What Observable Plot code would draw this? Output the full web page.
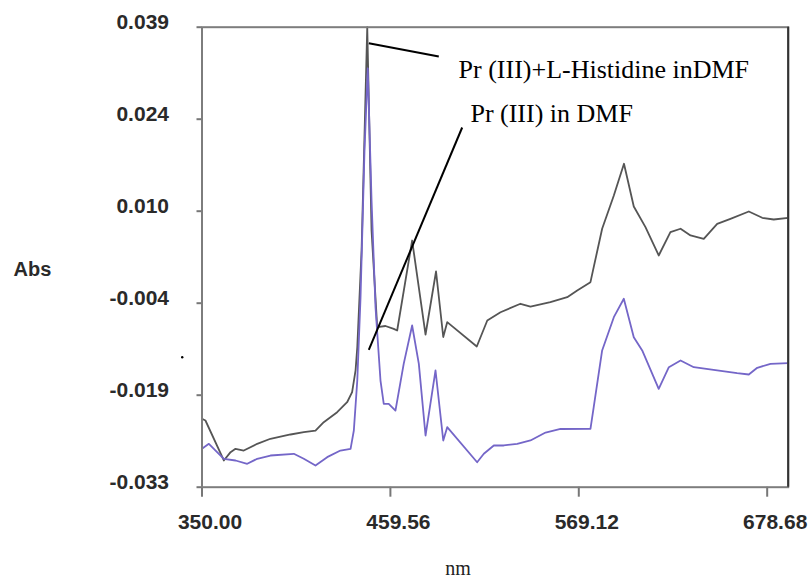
<!DOCTYPE html>
<html><head><meta charset="utf-8">
<script src="https://cdn.jsdelivr.net/npm/d3@7"></script>
<script src="https://cdn.jsdelivr.net/npm/@observablehq/plot@0.6"></script>
<style>body{margin:0;background:#fff}</style>
</head><body><div id="chart"></div>
<script>
// Pr (III) + L-Histidine in DMF (dark grey trace)
const nmComplex = [350.0,352.0,362.7,366.6,369.5,374.3,382.1,389.8,401.5,409.2,416.0,420.8,428.6,434.4,437.3,439.3,440.3,442.8,446.1,448.6,451.9,456.7,461.5,463.5,472.2,480.0,486.1,490.3,492.6,509.8,515.9,523.6,535.2,541.0,552.6,562.4,568.2,575.9,577.8,582.7,589.5,595.4,601.1,607.9,615.6,622.4,628.3,634.1,641.8,649.6,657.3,668.0,675.8,682.5,690.9];
const absComplex = [-0.02229,-0.02256,-0.02882,-0.02752,-0.02699,-0.02726,-0.02621,-0.02542,-0.02475,-0.02439,-0.02413,-0.02283,-0.02126,-0.01970,-0.01813,-0.01473,-0.01109,0.00405,0.03900,0.00718,-0.00796,-0.00777,-0.00821,-0.00847,0.00561,-0.00910,0.00076,-0.00949,-0.00717,-0.01098,-0.00691,-0.00561,-0.00429,-0.00472,-0.00404,-0.00326,-0.00221,-0.00091,0.00144,0.00745,0.01266,0.01762,0.01094,0.00770,0.00327,0.00691,0.00745,0.00640,0.00588,0.00823,0.00901,0.01015,0.00917,0.00890,0.00917];
// Pr (III) in DMF (purple trace)
const nmFree = [350.0,354.0,362.7,369.5,376.3,382.1,389.8,403.4,409.2,416.0,422.8,430.5,436.4,438.3,440.3,442.2,444.5,446.4,448.6,450.9,453.8,455.7,458.6,462.5,467.3,472.2,476.1,480.0,485.8,490.3,492.6,510.0,513.9,519.7,525.5,533.3,541.0,549.8,558.5,575.9,577.8,582.7,589.5,595.3,601.1,606.0,615.6,621.5,628.3,636.0,649.6,661.2,668.0,672.9,680.6,690.9];
const absFree = [-0.02699,-0.02621,-0.02855,-0.02882,-0.02934,-0.02855,-0.02804,-0.02777,-0.02855,-0.02960,-0.02830,-0.02726,-0.02699,-0.02413,-0.01630,-0.00326,0.01970,0.03254,0.01188,-0.00483,-0.01630,-0.01995,-0.01995,-0.02100,-0.01369,-0.00769,-0.01369,-0.02491,-0.01473,-0.02569,-0.02361,-0.02909,-0.02777,-0.02647,-0.02647,-0.02621,-0.02569,-0.02444,-0.02389,-0.02386,-0.02048,-0.01160,-0.00639,-0.00351,-0.00952,-0.01160,-0.01760,-0.01422,-0.01317,-0.01422,-0.01473,-0.01516,-0.01536,-0.01431,-0.01369,-0.01359];

const seriesNames = ["Pr (III)+L-Histidine inDMF", "Pr (III) in DMF"];
const xDomain = [350, 690.9];
const yDomain = [-0.033, 0.039];
const xTickValues = [350, 459.56, 569.12, 678.68];
const xTickLabels = ["350.00", "459.56", "569.12", "678.68"];
const yTickValues = [-0.033, -0.0186, -0.0042, 0.0102, 0.0246, 0.039];
const yTickLabels = ["-0.033", "-0.019", "-0.004", "0.010", "0.024", "0.039"];
const xTitle = "nm";
const yTitle = "Abs";

// annotation anchors (data coordinates)
const labelPos = [{x: 499.2, y: 0.0310, text: seriesNames[0]}, {x: 506.1, y: 0.0241, text: seriesNames[1]}];
const leaders = [
  {x1: 447.0, y1: 0.0365, x2: 487.7, y2: 0.0344},
  {x1: 501.3, y1: 0.0233, x2: 447.0, y2: -0.0115}
];

const complex = nmComplex.map((x, i) => ({x, y: absComplex[i]}));
const free = nmFree.map((x, i) => ({x, y: absFree[i]}));

const sans = "'Liberation Sans', Arial, sans-serif";
const serif = "'Liberation Serif', 'Times New Roman', serif";

const chart = Plot.plot({
  width: 811,
  height: 582,
  marginLeft: 201.5,
  marginRight: 23.3,
  marginTop: 26.7,
  marginBottom: 95.3,
  x: {domain: xDomain},
  y: {domain: yDomain},
  style: {background: "#fff"},
  marks: [
    Plot.axisX({ticks: xTickValues, tickSize: 10, tickFormat: () => "", stroke: "#777", strokeWidth: 2}),
    Plot.axisY({ticks: yTickValues, tickSize: 5, tickFormat: () => "", stroke: "#777", strokeWidth: 2}),
    Plot.text(xTickValues, {x: d => d, frameAnchor: "bottom", dy: 27, dx: 8, lineAnchor: "top",
      text: (d, i) => xTickLabels[i], fontSize: 21, fontWeight: "bold", fontFamily: sans, fill: "#2a2a2a"}),
    Plot.text(yTickValues, {y: d => d, frameAnchor: "left", dx: -33, dy: -5, textAnchor: "end", lineAnchor: "middle",
      text: (d, i) => yTickLabels[i], fontSize: 21, fontWeight: "bold", fontFamily: sans, fill: "#2a2a2a"}),
    Plot.text([yTitle], {y: [0.0011], frameAnchor: "left", dx: -188.5, textAnchor: "start", lineAnchor: "middle",
      fontSize: 20, fontWeight: "bold", fontFamily: sans, fill: "#2a2a2a"}),
    Plot.text([xTitle], {x: [498.9], frameAnchor: "bottom", dy: 88, textAnchor: "middle", lineAnchor: "bottom",
      fontSize: 20, fontFamily: serif, fill: "#222"}),
    Plot.line(complex, {x: "x", y: "y", stroke: "#555", strokeWidth: 1.8}),
    Plot.line(free, {x: "x", y: "y", stroke: "#7466c8", strokeWidth: 1.8}),
    Plot.frame({stroke: "#7d7d7d", strokeWidth: 2}),
    Plot.ruleX([xDomain[1]], {stroke: "#333", strokeWidth: 2}),
    Plot.link(leaders, {x1: "x1", y1: "y1", x2: "x2", y2: "y2", stroke: "#000", strokeWidth: 2}),
    Plot.text(labelPos, {x: "x", y: "y", text: "text", textAnchor: "start", lineAnchor: "bottom",
      fontSize: 26, fontFamily: serif, fill: "#000"}),
    Plot.dot([{x: 338.5, y: -0.01265}], {x: "x", y: "y", r: 1.2, fill: "#000", stroke: null})
  ]
});
document.getElementById("chart").appendChild(chart);
</script>
</body></html>
